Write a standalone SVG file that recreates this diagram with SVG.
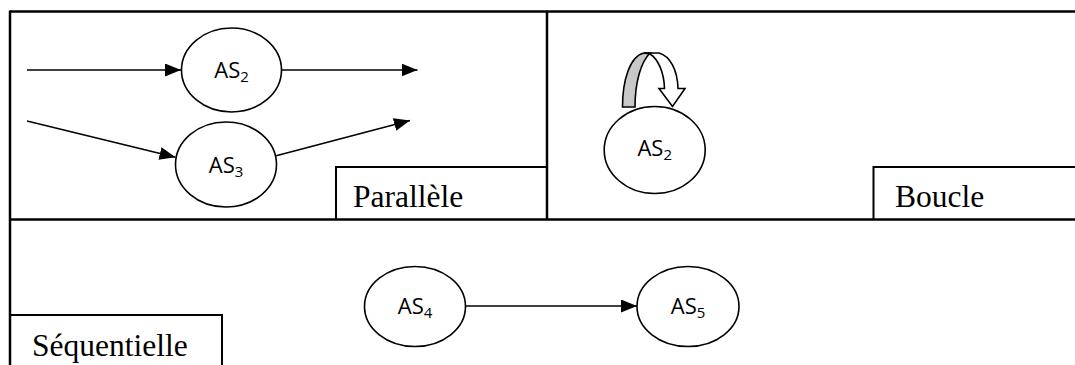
<svg xmlns="http://www.w3.org/2000/svg" width="1075" height="365" viewBox="0 0 1075 365">
<style>
.frame{stroke:#000;stroke-width:2.5;fill:none}
.box{stroke:#000;stroke-width:2;fill:none}
.node{stroke:#000;stroke-width:1.6;fill:#fff}
.conn{stroke:#000;stroke-width:1.6;fill:none;marker-end:url(#ah)}
.lbl{font-family:"Open Sans","Liberation Sans",sans-serif;font-size:22px;fill:#000;text-anchor:middle}
.sub{font-size:15px}
.title{font-family:"Liberation Serif","Times New Roman",serif;font-size:31.5px;fill:#000}
</style>
<defs>
<marker id="ah" markerUnits="userSpaceOnUse" markerWidth="16" markerHeight="13" refX="16" refY="6.5" orient="auto">
<path d="M0,0 L16,6.5 L0,13 Z" fill="#000"/>
</marker>
</defs>
<rect width="1075" height="365" fill="#fff"/>
<g id="frame">
<line class="frame" x1="10" y1="11.5" x2="1075" y2="11.5"/>
<line class="frame" x1="10" y1="10.5" x2="10" y2="365"/>
<line class="frame" x1="547" y1="11.5" x2="547" y2="219.5"/>
<line class="frame" x1="10" y1="219.5" x2="1075" y2="219.5"/>
</g>
<g id="label-parallele">
<path class="box" d="M336,219.5 V167 H546"/>
<text class="title" x="353" y="207">Parallèle</text>
</g>
<g id="label-boucle">
<path class="box" d="M873.5,219.5 V167 H1075"/>
<text class="title" x="895" y="207">Boucle</text>
</g>
<g id="label-sequentielle">
<path class="box" d="M10,315 H222 V365"/>
<text class="title" x="32" y="356">Séquentielle</text>
</g>
<g id="connectors">
<line class="conn" x1="27" y1="70" x2="181" y2="70"/>
<line class="conn" x1="281.5" y1="70" x2="417.5" y2="70"/>
<line class="conn" x1="27" y1="121" x2="175.5" y2="157.3"/>
<line class="conn" x1="276.2" y1="155.7" x2="410" y2="120.4"/>
<line class="conn" x1="465.5" y1="306" x2="637" y2="306"/>
<g id="loop-arrow" stroke="#000" stroke-width="1.6" stroke-linejoin="miter">
<path d="M622.5,107 C622.5,80 630,56 644,53 L650,53 C641,62 635,82 635,107 Z" fill="#c8c8c8"/>
<path d="M644,53 L659,53 C670,56 677.5,70 678,88.5 L685,88.5 L672.5,106.5 L659,88.5 L664.5,88.5 C664,72 658,59 650,54 Z" fill="#fff"/>
</g>
</g>
<g id="node-as2-top">
<ellipse class="node" cx="231.5" cy="70" rx="50" ry="42"/>
<text class="lbl" x="231.5" y="78">AS<tspan class="sub" dy="4">2</tspan></text>
</g>
<g id="node-as3">
<ellipse class="node" cx="226" cy="164.5" rx="50.5" ry="42.5"/>
<text class="lbl" x="226" y="172.5">AS<tspan class="sub" dy="4">3</tspan></text>
</g>
<g id="node-as2-loop">
<ellipse class="node" cx="654.7" cy="150" rx="50.5" ry="43.5"/>
<text class="lbl" x="654.7" y="156">AS<tspan class="sub" dy="4">2</tspan></text>
</g>
<g id="node-as4">
<ellipse class="node" cx="415" cy="306.5" rx="50.5" ry="40"/>
<text class="lbl" x="415" y="314">AS<tspan class="sub" dy="4">4</tspan></text>
</g>
<g id="node-as5">
<ellipse class="node" cx="688" cy="306.5" rx="51" ry="40"/>
<text class="lbl" x="688" y="314">AS<tspan class="sub" dy="4">5</tspan></text>
</g>
</svg>
